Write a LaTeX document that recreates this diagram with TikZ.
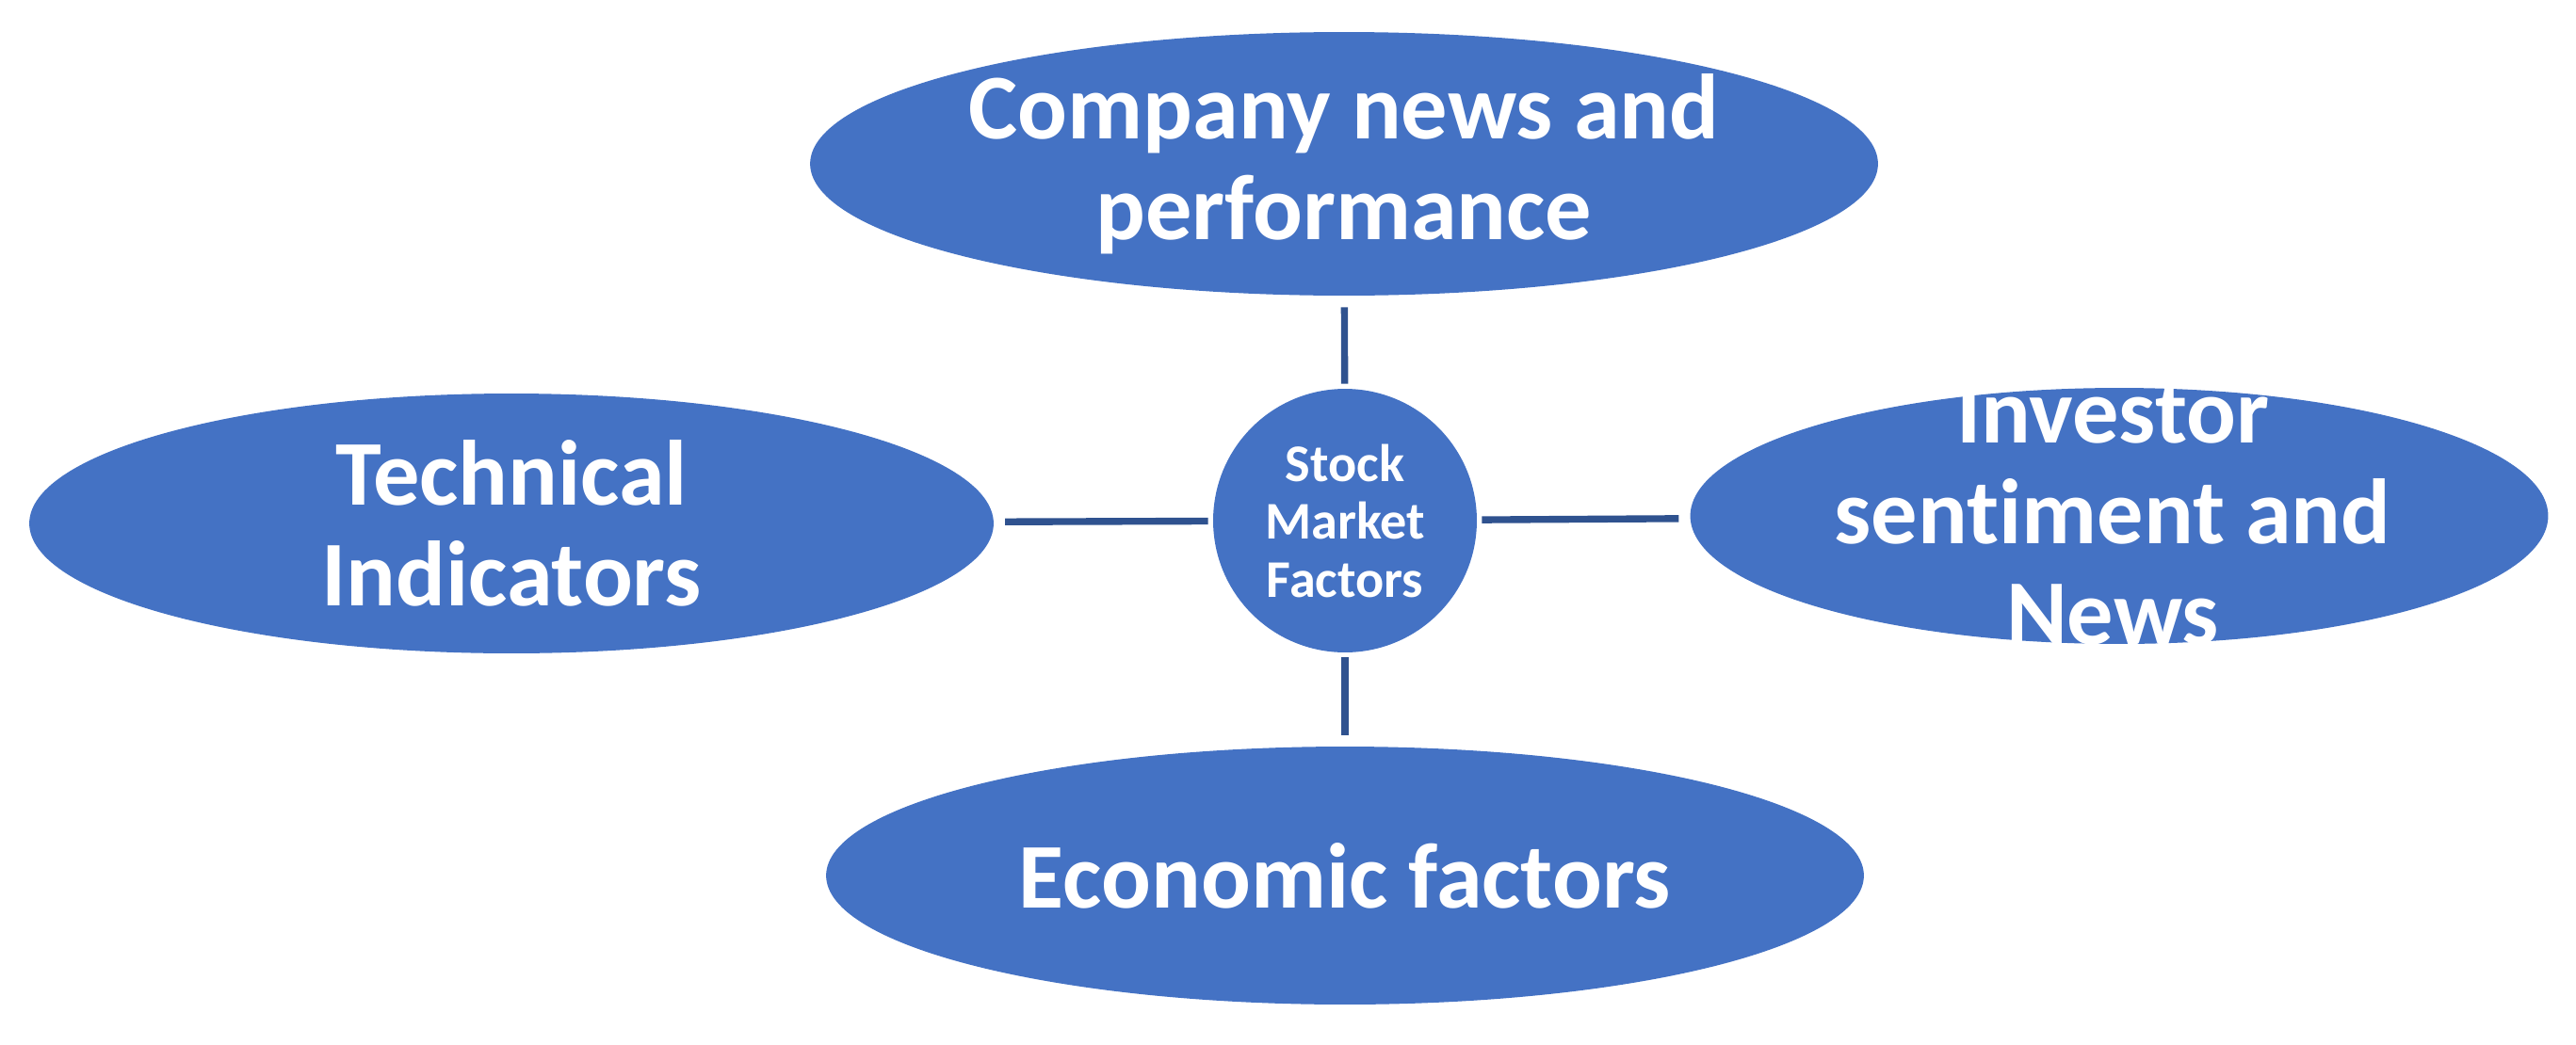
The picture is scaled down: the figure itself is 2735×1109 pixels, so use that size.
\documentclass[tikz,border=0pt]{standalone}
\usepackage{fontspec}
\setmainfont{Carlito}[Ligatures={NoCommon}]
\usetikzlibrary{shapes.geometric}
\definecolor{fillblue}{HTML}{4472C4}
\definecolor{lineblue}{HTML}{2F528F}
\begin{document}
\begin{tikzpicture}[x=0.02cm,y=-0.02cm,
  blob/.style={ellipse, fill=fillblue, inner sep=0pt},
  hub/.style={circle, fill=fillblue, inner sep=0pt, minimum size=5.6cm},
  bigtext/.style={text=white, font=\fontsize{56}{61}\selectfont\bfseries, align=center, inner sep=0pt},
  smalltext/.style={text=white, font=\fontsize{32}{35}\selectfont\bfseries, align=center, inner sep=0pt},
  link/.style={draw=lineblue, line width=4.2pt, shorten <=0.1cm, shorten >=0.24cm}]
\useasboundingbox (0,0) rectangle (2735,1109);
\node[blob, minimum width=22.68cm, minimum height=5.6cm] (top) at (1427,174) {};
\node[blob, minimum width=20.48cm, minimum height=5.52cm] (left) at (543,556) {};
\node[blob, minimum width=18.22cm, minimum height=5.44cm] (right) at (2250,548) {};
\node[blob, minimum width=22.04cm, minimum height=5.48cm] (bottom) at (1428,930) {};
\node[hub] (hub) at (1428,553) {};
\draw[link] (hub) -- (top);
\draw[link] (hub) -- (left);
\draw[link] (hub) -- (right);
\draw[link] (hub) -- (bottom);
\node[bigtext] (ttop) at (top.center) {Company news and\\performance};
\node[bigtext] (tleft) at (left.center) {Technical\\Indicators};
\node[bigtext] (tright) at (2243,546) {Investor\\sentiment and\\News};
\node[bigtext] (tbottom) at (bottom.center) {Economic factors};
\node[smalltext] (thub) at (hub.center) {Stock\\Market\\Factors};
\end{tikzpicture}
\end{document}
